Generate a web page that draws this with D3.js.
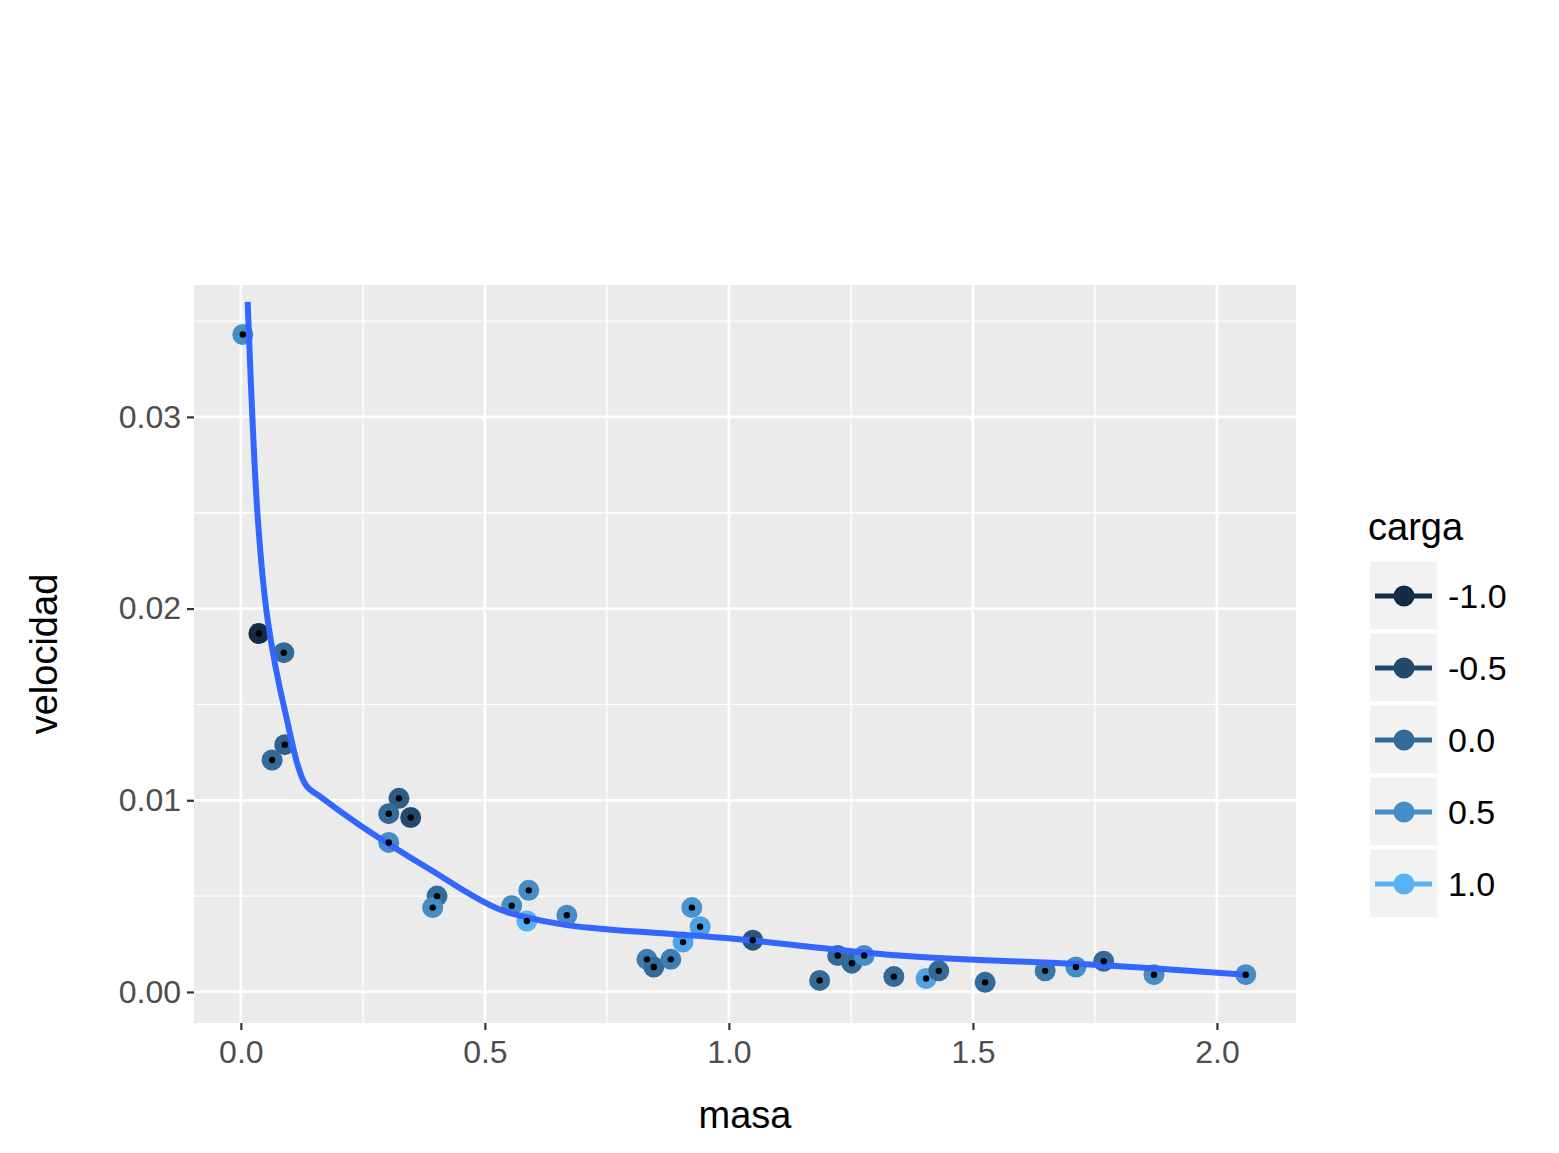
<!DOCTYPE html>
<html><head><meta charset="utf-8">
<script src="https://cdn.jsdelivr.net/npm/d3@7"></script>
<style>body{margin:0;background:#fff}text{font-family:Arial,"Liberation Sans",sans-serif}</style>
</head><body><div id="chart"></div>
<script>
// data
const masa = [0.004,0.037,0.088,0.090,0.064,0.324,0.303,0.348,0.303,0.402,0.393,0.555,0.590,0.586,0.668,0.924,0.941,0.906,0.832,0.846,0.881,1.049,1.186,1.223,1.252,1.277,1.338,1.404,1.430,1.525,1.648,1.711,1.768,1.871,2.059];
const velocidad = [0.0343,0.0187,0.0177,0.0129,0.0121,0.0101,0.0093,0.0091,0.0078,0.0050,0.0044,0.0045,0.0053,0.0037,0.0040,0.0044,0.0034,0.0026,0.0017,0.0013,0.0017,0.0027,0.0006,0.0019,0.0015,0.0019,0.0008,0.0007,0.0011,0.0005,0.0011,0.0013,0.0016,0.0009,0.0009];
const carga = [0.5,-1,0,-0.1,0,-0.2,0,-0.5,0.5,0,0.5,0.5,0.5,1,0.5,0.6,0.8,0.8,0.3,0,0.3,-0.3,0,0,0,0.5,0,0.8,0,0,0.2,0.5,0,0.5,0.5];
const fitX = [0.014,0.035,0.055,0.09,0.133,0.162,0.244,0.387,0.531,0.664,0.736,1.0,1.35,1.76,2.06];
const fitY = [0.036,0.0246,0.0194,0.0147,0.0108,0.0102,0.0087,0.0064,0.0043,0.0035,0.0033,0.0028,0.0019,0.0014,0.0009];
const xTicks = [0, 0.5, 1.0, 1.5, 2.0];
const yTicks = [0, 0.01, 0.02, 0.03];
const legendVals = [-1.0, -0.5, 0.0, 0.5, 1.0];

const W = 1559, H = 1153;
const P = {left:194, right:1296, top:285, bottom:1023};
const svg = d3.select("#chart").append("svg").attr("width", W).attr("height", H);

const x = d3.scaleLinear().domain([-0.096, 2.162]).range([P.left, P.right]);
const y = d3.scaleLinear().domain([-0.00162, 0.03688]).range([P.bottom, P.top]);
const color = d3.scaleLinear().domain([-1, 1]).range(["#132B43", "#56B1F7"]).interpolate(d3.interpolateLab);

svg.append("rect").attr("x", P.left).attr("y", P.top)
  .attr("width", P.right - P.left).attr("height", P.bottom - P.top).attr("fill", "#EBEBEB");

const g = svg.append("g");
// minor grid
[0.25, 0.75, 1.25, 1.75].forEach(v => g.append("line").attr("x1", x(v)).attr("x2", x(v))
  .attr("y1", P.top).attr("y2", P.bottom).attr("stroke", "#fff").attr("stroke-width", 1.3));
[0.005, 0.015, 0.025, 0.035].forEach(v => g.append("line").attr("y1", y(v)).attr("y2", y(v))
  .attr("x1", P.left).attr("x2", P.right).attr("stroke", "#fff").attr("stroke-width", 1.3));
// major grid
xTicks.forEach(v => g.append("line").attr("x1", x(v)).attr("x2", x(v))
  .attr("y1", P.top).attr("y2", P.bottom).attr("stroke", "#fff").attr("stroke-width", 2.7));
yTicks.forEach(v => g.append("line").attr("y1", y(v)).attr("y2", y(v))
  .attr("x1", P.left).attr("x2", P.right).attr("stroke", "#fff").attr("stroke-width", 2.7));

// axes
const xAxis = svg.append("g").attr("transform", `translate(0,${P.bottom})`)
  .call(d3.axisBottom(x).tickValues(xTicks).tickFormat(d3.format(".1f")).tickSize(7).tickPadding(10));
const yAxis = svg.append("g").attr("transform", `translate(${P.left},0)`)
  .call(d3.axisLeft(y).tickValues(yTicks).tickFormat(d3.format(".2f")).tickSize(7).tickPadding(6));
[xAxis, yAxis].forEach(a => {
  a.select(".domain").remove();
  a.selectAll("line").attr("stroke", "#333").attr("stroke-width", 2.2);
  a.selectAll("text").attr("fill", "#4D4D4D").style("font-size", "32px");
});

svg.append("text").attr("x", (P.left + P.right) / 2).attr("y", 1128).attr("text-anchor", "middle")
  .style("font-size", "38px").text("masa");
svg.append("text").attr("transform", `translate(57,${(P.top + P.bottom) / 2}) rotate(-90)`)
  .attr("text-anchor", "middle").style("font-size", "38px").text("velocidad");

// points
const pts = masa.map((m, i) => ({m, v: velocidad[i], c: carga[i]}));
g.selectAll("circle.pt").data(pts).join("circle").attr("class", "pt")
  .attr("cx", d => x(d.m)).attr("cy", d => y(d.v)).attr("r", 10.5).attr("fill", d => color(d.c));

// smooth fit
g.append("path").datum(fitX.map((v, i) => [v, fitY[i]]))
  .attr("fill", "none").attr("stroke", "#3366FF").attr("stroke-width", 6)
  .attr("d", d3.line().x(d => x(d[0])).y(d => y(d[1])).curve(d3.curveCatmullRom));

g.selectAll("circle.dot").data(pts).join("circle").attr("class", "dot")
  .attr("cx", d => x(d.m)).attr("cy", d => y(d.v)).attr("r", 3.2).attr("fill", "#000");

// legend
svg.append("text").attr("x", 1368).attr("y", 540).style("font-size", "38px").text("carga");
const lg = svg.selectAll("g.key").data(legendVals).join("g").attr("class", "key")
  .attr("transform", (d, i) => `translate(1370,${562 + i * 72})`);
lg.append("rect").attr("width", 67).attr("height", 67).attr("fill", "#F2F2F2");
lg.append("line").attr("x1", 5).attr("x2", 62).attr("y1", 34).attr("y2", 34)
  .attr("stroke", d => color(d)).attr("stroke-width", 5);
lg.append("circle").attr("cx", 34).attr("cy", 34).attr("r", 10.5).attr("fill", d => color(d));
lg.append("text").attr("x", 78).attr("y", 46).style("font-size", "34px").text(d => d3.format(".1f")(d).replace("−", "-"));
</script></body></html>
